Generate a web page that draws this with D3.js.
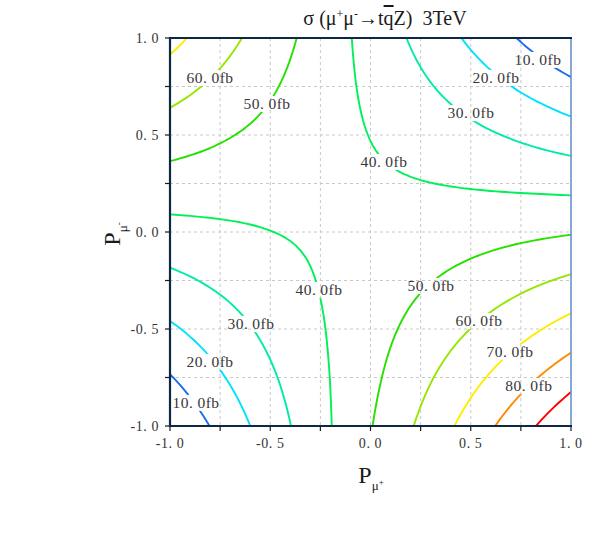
<!DOCTYPE html>
<html>
<head>
<meta charset="utf-8">
<script src="https://cdn.jsdelivr.net/npm/d3@7/dist/d3.min.js"></script>
<style>
  html, body { margin: 0; padding: 0; background: #fff; }
  svg { display: block; }
</style>
</head>
<body>
<svg id="chart" width="589" height="547"></svg>
<script>
// ---------------- data ----------------
// grid nodes (P_mu+ along columns, P_mu- along rows)
const pPlus  = [-1, -0.75, -0.5, -0.25, 0, 0.25, 0.5, 0.75, 1];
const pMinus = [-1, -0.75, -0.5, -0.25, 0, 0.25, 0.5, 0.75, 1];
// cross section in fb, rows = P_mu- (from -1 to 1), cols = P_mu+ (from -1 to 1)
const sigmaRowM100 = [0.3, 12.6, 24.9, 37.2, 49.5, 61.7, 74.0, 86.3, 98.6];
const sigmaRowM075 = [9.4, 19.0, 28.6, 38.2, 47.8, 57.5, 67.1, 76.7, 86.3];
const sigmaRowM050 = [18.5, 25.4, 32.4, 39.3, 46.2, 53.2, 60.1, 67.0, 74.0];
const sigmaRowM025 = [27.6, 31.9, 36.1, 40.4, 44.6, 48.9, 53.1, 57.4, 61.6];
const sigmaRow000  = [36.7, 38.3, 39.9, 41.4, 43.0, 44.6, 46.2, 47.8, 49.3];
const sigmaRowP025 = [45.8, 44.7, 43.6, 42.5, 41.4, 40.3, 39.2, 38.1, 37.0];
const sigmaRowP050 = [54.9, 51.1, 47.4, 43.6, 39.8, 36.0, 32.3, 28.5, 24.7];
const sigmaRowP075 = [64.0, 57.6, 51.1, 44.6, 38.2, 31.7, 25.3, 18.8, 12.4];
const sigmaRowP100 = [73.1, 64.0, 54.8, 45.7, 36.6, 27.4, 18.3, 9.2, 0.05];
const sigmaGrid = [sigmaRowM100, sigmaRowM075, sigmaRowM050, sigmaRowM025, sigmaRow000,
                   sigmaRowP025, sigmaRowP050, sigmaRowP075, sigmaRowP100];
const levels = [10, 20, 30, 40, 50, 60, 70, 80, 90];
const levelColors = ["#1a6cf5", "#00e1ff", "#00eaa8", "#00f05a", "#26e000", "#96e600", "#ffec00", "#ff8a00", "#ff0000"];
const tickValues = [-1, -0.75, -0.5, -0.25, 0, 0.25, 0.5, 0.75, 1];
const tickLabels = ["-1.0", "-0.5", "0.0", "0.5", "1.0"];
const tickLabelValues = [-1, -0.5, 0, 0.5, 1];

// label placement (layout): level, P_mu+, P_mu-
const labelPlacement = [
  [10, 0.835, 0.887], [20, 0.626, 0.794], [30, 0.501, 0.613], [40, 0.067, 0.361],
  [50, -0.516, 0.660], [60, -0.800, 0.794],
  [40, -0.257, -0.299], [30, -0.596, -0.474], [20, -0.800, -0.670], [10, -0.870, -0.881],
  [50, 0.302, -0.278], [60, 0.541, -0.459], [70, 0.696, -0.619], [80, 0.790, -0.794]
];

// ---------------- layout ----------------
const svg = d3.select("#chart");
const X0 = 170, X1 = 571, Y0 = 38, Y1 = 426;
const x = d3.scaleLinear().domain([-1, 1]).range([X0, X1]);
const y = d3.scaleLinear().domain([-1, 1]).range([Y1, Y0]);
const serif = "'Liberation Serif', 'DejaVu Serif', serif";

// grid
const gGrid = svg.append("g");
tickValues.filter(v => v > -1 && v < 1).forEach(v => {
  gGrid.append("line").attr("x1", x(v)).attr("x2", x(v)).attr("y1", Y0).attr("y2", Y1)
    .attr("stroke", "#c8c8c8").attr("stroke-width", 1).attr("stroke-dasharray", "3,3");
  gGrid.append("line").attr("y1", y(v)).attr("y2", y(v)).attr("x1", X0).attr("x2", X1)
    .attr("stroke", "#c8c8c8").attr("stroke-width", 1).attr("stroke-dasharray", "3,3");
});

// ---------------- rendering helpers ----------------
// bilinear shading of the data grid for smooth isolines (rendering only)
function refine(z, xs, ys, f) {
  const fx = [], fy = [];
  for (let i = 0; i < xs.length - 1; i++) for (let s = 0; s < f; s++) fx.push({i, t: s / f});
  fx.push({i: xs.length - 2, t: 1});
  for (let j = 0; j < ys.length - 1; j++) for (let s = 0; s < f; s++) fy.push({j, t: s / f});
  fy.push({j: ys.length - 2, t: 1});
  const nxs = fx.map(a => xs[a.i] + a.t * (xs[a.i + 1] - xs[a.i]));
  const nys = fy.map(b => ys[b.j] + b.t * (ys[b.j + 1] - ys[b.j]));
  const nz = fy.map(b => fx.map(a => {
    const z00 = z[b.j][a.i], z10 = z[b.j][a.i + 1], z01 = z[b.j + 1][a.i], z11 = z[b.j + 1][a.i + 1];
    return z00 * (1 - a.t) * (1 - b.t) + z10 * a.t * (1 - b.t) + z01 * (1 - a.t) * b.t + z11 * a.t * b.t;
  }));
  return {xs: nxs, ys: nys, z: nz};
}

function isolines(z, xs, ys, level) {
  const segs = [];
  const nx = xs.length, ny = ys.length;
  const lerp = (a, b, va, vb) => a + (level - va) / (vb - va) * (b - a);
  for (let j = 0; j < ny - 1; j++) {
    for (let i = 0; i < nx - 1; i++) {
      const z00 = z[j][i], z10 = z[j][i + 1], z01 = z[j + 1][i], z11 = z[j + 1][i + 1];
      const pts = [];
      if ((z00 < level) !== (z10 < level)) pts.push({k: `h${i},${j}`, p: [lerp(xs[i], xs[i + 1], z00, z10), ys[j]]});
      if ((z10 < level) !== (z11 < level)) pts.push({k: `v${i + 1},${j}`, p: [xs[i + 1], lerp(ys[j], ys[j + 1], z10, z11)]});
      if ((z01 < level) !== (z11 < level)) pts.push({k: `h${i},${j + 1}`, p: [lerp(xs[i], xs[i + 1], z01, z11), ys[j + 1]]});
      if ((z00 < level) !== (z01 < level)) pts.push({k: `v${i},${j}`, p: [xs[i], lerp(ys[j], ys[j + 1], z00, z01)]});
      if (pts.length === 2) segs.push([pts[0], pts[1]]);
      else if (pts.length === 4) {
        const c = (z00 + z10 + z01 + z11) / 4;
        if ((c < level) === (z00 < level)) { segs.push([pts[0], pts[1]]); segs.push([pts[2], pts[3]]); }
        else { segs.push([pts[0], pts[3]]); segs.push([pts[1], pts[2]]); }
      }
    }
  }
  const adj = new Map();
  segs.forEach((s, idx) => s.forEach(e => { if (!adj.has(e.k)) adj.set(e.k, []); adj.get(e.k).push(idx); }));
  const used = new Set();
  const lines = [];
  function walk(idx, key) {
    const line = [];
    while (idx !== undefined && !used.has(idx)) {
      used.add(idx);
      const s = segs[idx];
      const a = s[0].k === key ? s[0] : s[1];
      const b = a === s[0] ? s[1] : s[0];
      if (line.length === 0) line.push(a.p);
      line.push(b.p);
      key = b.k;
      idx = adj.get(key).find(k => !used.has(k));
    }
    return line;
  }
  for (const [k, list] of adj) {
    if (list.length === 1 && !used.has(list[0])) lines.push(walk(list[0], k));
  }
  segs.forEach((s, idx) => { if (!used.has(idx)) lines.push(walk(idx, s[0].k)); });
  return lines;
}

// ---------------- labels + mask ----------------
const defs = svg.append("defs");
const mask = defs.append("mask").attr("id", "labelMask").attr("maskUnits", "userSpaceOnUse")
  .attr("x", 0).attr("y", 0).attr("width", 589).attr("height", 547);
mask.append("rect").attr("x", 0).attr("y", 0).attr("width", 589).attr("height", 547).attr("fill", "#fff");
defs.append("clipPath").attr("id", "plotClip").append("rect")
  .attr("x", X0).attr("y", Y0).attr("width", X1 - X0).attr("height", Y1 - Y0);

const fine = refine(sigmaGrid, pPlus, pMinus, 10);
const line = d3.line().x(d => x(d[0])).y(d => y(d[1]));
const gLines = svg.append("g").attr("mask", "url(#labelMask)").attr("clip-path", "url(#plotClip)");
levels.forEach((lv, li) => {
  isolines(fine.z, fine.xs, fine.ys, lv).forEach(pl => {
    if (pl.length < 2) return;
    gLines.append("path").attr("d", line(pl)).attr("fill", "none")
      .attr("stroke", levelColors[li]).attr("stroke-width", 1.9).attr("stroke-linejoin", "round");
  });
});

const gLabels = svg.append("g");
labelPlacement.forEach(([lv, px, pm]) => {
  const txt = lv.toFixed(1) + "fb";
  const parts = txt.split(".");
  const t = gLabels.append("text").attr("x", x(px)).attr("y", y(pm) + 5)
    .attr("text-anchor", "middle").attr("font-family", serif).attr("font-size", 15.5)
    .attr("letter-spacing", 0.5).attr("fill", "#383838");
  t.append("tspan").text(parts[0] + ".");
  t.append("tspan").attr("dx", 4).text(parts[1]);
  const w = 52, h = 16;
  mask.append("rect").attr("x", x(px) - w / 2).attr("y", y(pm) - h / 2).attr("width", w).attr("height", h).attr("fill", "#000");
});

// ---------------- axes / frame ----------------
const gAxes = svg.append("g");
tickValues.forEach(v => {
  gAxes.append("line").attr("x1", x(v)).attr("x2", x(v)).attr("y1", Y1).attr("y2", Y1 + 5)
    .attr("stroke", "#1a1a1a").attr("stroke-width", 1.2);
  gAxes.append("line").attr("y1", y(v)).attr("y2", y(v)).attr("x1", X0 - 5).attr("x2", X0)
    .attr("stroke", "#1a1a1a").attr("stroke-width", 1.2);
});
function tickText(sel, lab) {
  const parts = lab.split(".");
  sel.append("tspan").text(parts[0] + ".");
  sel.append("tspan").attr("dx", 4).text(parts[1]);
}
tickLabelValues.forEach((v, i) => {
  const tx = gAxes.append("text").attr("x", x(v)).attr("y", Y1 + 22).attr("text-anchor", "middle")
    .attr("font-family", serif).attr("font-size", 14).attr("letter-spacing", 0.6).attr("fill", "#333");
  tickText(tx, tickLabels[i]);
  const ty = gAxes.append("text").attr("x", X0 - 11).attr("y", y(v) + 5).attr("text-anchor", "end")
    .attr("font-family", serif).attr("font-size", 14).attr("letter-spacing", 0.6).attr("fill", "#333");
  tickText(ty, tickLabels[i]);
});

// frame
svg.append("line").attr("x1", X1).attr("x2", X1).attr("y1", Y0).attr("y2", Y1)
  .attr("stroke", "#5b8cc4").attr("stroke-width", 1.5);
svg.append("line").attr("x1", X0 - 1).attr("x2", X1 + 1).attr("y1", Y0).attr("y2", Y0)
  .attr("stroke", "#0d2745").attr("stroke-width", 2.2);
svg.append("line").attr("x1", X0 - 1).attr("x2", X1 + 1).attr("y1", Y1).attr("y2", Y1)
  .attr("stroke", "#0d2745").attr("stroke-width", 2.2);
svg.append("line").attr("x1", X0).attr("x2", X0).attr("y1", Y0).attr("y2", Y1)
  .attr("stroke", "#0d2745").attr("stroke-width", 2.2);

// title
const title = svg.append("text").attr("x", 385).attr("y", 25).attr("text-anchor", "middle")
  .attr("font-family", serif).attr("font-size", 20).attr("fill", "#1a1a1a").attr("xml:space", "preserve");
title.append("tspan").text("σ (μ");
title.append("tspan").attr("dy", -7).attr("font-size", 12).text("+");
title.append("tspan").attr("dy", 7).text("μ");
title.append("tspan").attr("dy", -7).attr("font-size", 12).text("-");
title.append("tspan").attr("dy", 7).text("→t");
title.append("tspan").style("text-decoration", "overline").text("q");
title.append("tspan").text("Z)  3TeV");

// x-axis label
const xl = svg.append("text").attr("x", 371).attr("y", 483).attr("text-anchor", "middle")
  .attr("font-family", serif).attr("font-size", 24).attr("fill", "#1a1a1a");
xl.append("tspan").text("P");
xl.append("tspan").attr("dy", 7).attr("font-size", 13).text("μ");
xl.append("tspan").attr("dy", -5).attr("font-size", 9).text("+");

// y-axis label
const yl = svg.append("text").attr("transform", "translate(120,234) rotate(-90)").attr("text-anchor", "middle")
  .attr("font-family", serif).attr("font-size", 24).attr("fill", "#1a1a1a");
yl.append("tspan").text("P");
yl.append("tspan").attr("dy", 7).attr("font-size", 13).text("μ");
yl.append("tspan").attr("dy", -5).attr("font-size", 9).text("-");
</script>
</body>
</html>
